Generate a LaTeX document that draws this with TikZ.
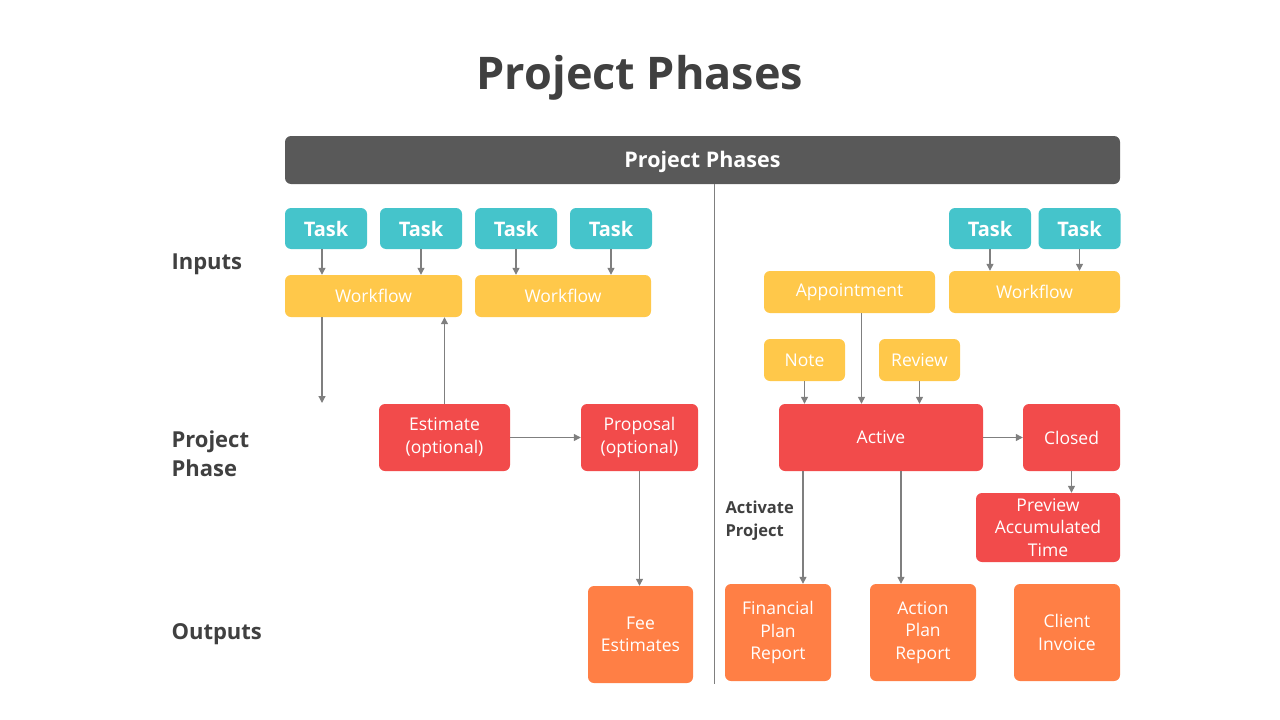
\documentclass[tikz,border=0pt]{standalone}
\usepackage{fontspec}
\setmainfont{Open Sans}
\usetikzlibrary{arrows.meta}

\definecolor{txtgray}{HTML}{404040}
\definecolor{bargray}{HTML}{595959}
\definecolor{linegray}{HTML}{7F7F7F}
\definecolor{taskteal}{HTML}{45C4CB}
\definecolor{flowyellow}{HTML}{FFC84A}
\definecolor{phasered}{HTML}{F24B4B}
\definecolor{outorange}{HTML}{FF7F45}

\tikzset{
  box/.style={rounded corners=6pt, text=white, align=center, inner sep=0pt,
    font=\fontsize{17.5}{22.5}\selectfont},
  task/.style={box, fill=taskteal, minimum width=82pt, minimum height=41pt,
    font=\fontsize{20}{24}\selectfont\bfseries},
  flow/.style={box, fill=flowyellow, minimum height=42pt},
  phase/.style={box, fill=phasered, minimum height=67pt},
  outbox/.style={box, fill=outorange, minimum width=106pt, minimum height=97pt},
  rowlabel/.style={anchor=west, align=left, text=txtgray,
    font=\fontsize{22}{29}\selectfont\bfseries},
  arr/.style={draw=linegray, line width=1.2pt,
    -{Triangle[width=7pt,length=7pt]}}
}

\begin{document}
\begin{tikzpicture}[x=1pt,y=-1pt]
\useasboundingbox (0,0) rectangle (1280,720);

\node[text=txtgray, font=\fontsize{45}{50}\selectfont\bfseries] (title) at (640,78) {Project Phases};
\node[fill=bargray, rounded corners=6pt, minimum width=835pt, minimum height=48pt] (bar) at (702.5,160) {};
\node[text=white, font=\fontsize{21.5}{24}\selectfont\bfseries] (bartxt) at (702.5,162) {Project Phases};
\draw[linegray, line width=1pt] (714,184) -- (714,684);

% row labels
\node[rowlabel] (lin) at (168,264) {Inputs};
\node[rowlabel] (lph) at (168,454) {Project\\Phase};
\node[rowlabel] (lout) at (168,634) {Outputs};

% inputs
\node[task] (t1) at (326,228.5) {Task};
\node[task] (t2) at (421,228.5) {Task};
\node[task] (t3) at (516,228.5) {Task};
\node[task] (t4) at (611,228.5) {Task};
\node[task] (t5) at (990,228.5) {Task};
\node[task] (t6) at (1079.5,228.5) {Task};
\node[flow, minimum width=177pt] (w1) at (373.5,296) {Workflow};
\node[flow, minimum width=176pt] (w2) at (563,296) {Workflow};
\node[flow, minimum width=171pt] (app) at (849.5,292) {Appointment};
\node[flow, minimum width=171pt] (w3) at (1034.5,292) {Workflow};
\node[flow, minimum width=81pt] (note) at (804.5,360) {Note};
\node[flow, minimum width=81pt] (rev) at (919.5,360) {Review};

% phases
\node[phase, minimum width=131pt] (est) at (444.5,437.5) {Estimate\\(optional)};
\node[phase, minimum width=117pt] (prop) at (639.5,437.5) {Proposal\\(optional)};
\node[phase, minimum width=204pt] (act) at (881,437.5) {Active};
\node[phase, minimum width=97pt] (clo) at (1071.5,437.5) {Closed};
\node[phase, minimum width=144pt, minimum height=69pt] (prev) at (1048,527.5) {Preview\\Accumulated\\Time};
\node[anchor=west, align=left, text=txtgray, font=\fontsize{16.5}{23}\selectfont\bfseries] (actp) at (722,521) {Activate\\Project};

% outputs
\node[outbox, minimum width=105pt] (fee) at (640.5,634.5) {Fee\\Estimates};
\node[outbox] (fin) at (778,632.5) {Financial\\Plan\\Report};
\node[outbox] (actn) at (923,632.5) {Action\\Plan\\Report};
\node[outbox] (inv) at (1067,632.5) {Client\\Invoice};

\coordinate (w1dn) at (322,403);

\draw[arr] ([xshift=-4pt]t1.south) -- ([xshift=-4pt]t1.south |- w1.north);
\draw[arr] (t2.south) -- (t2.south |- w1.north);
\draw[arr] (t3.south) -- (t3.south |- w2.north);
\draw[arr] (t4.south) -- (t4.south |- w2.north);
\draw[arr] (t5.south) -- (t5.south |- w3.north);
\draw[arr] (t6.south) -- (t6.south |- w3.north);
\draw[arr] (w1.south -| w1dn) -- (w1dn);
\draw[arr] (est.north) -- (est.north |- w1.south);
\draw[arr] (est) -- (prop);
\draw[arr] (prop.south) -- (prop.south |- fee.north);
\draw[arr] ([xshift=12pt]app.south) -- ([xshift=12pt]app.south |- act.north);
\draw[arr] (note.south) -- (note.south |- act.north);
\draw[arr] (rev.south) -- (rev.south |- act.north);
\draw[arr] (act) -- (clo);
\draw[arr] (clo.south) -- (clo.south |- prev.north);
\draw[arr] ([xshift=-78pt]act.south) -- ([xshift=-78pt]act.south |- fin.north);
\draw[arr] ([xshift=20pt]act.south) -- ([xshift=20pt]act.south |- actn.north);
\end{tikzpicture}
\end{document}
